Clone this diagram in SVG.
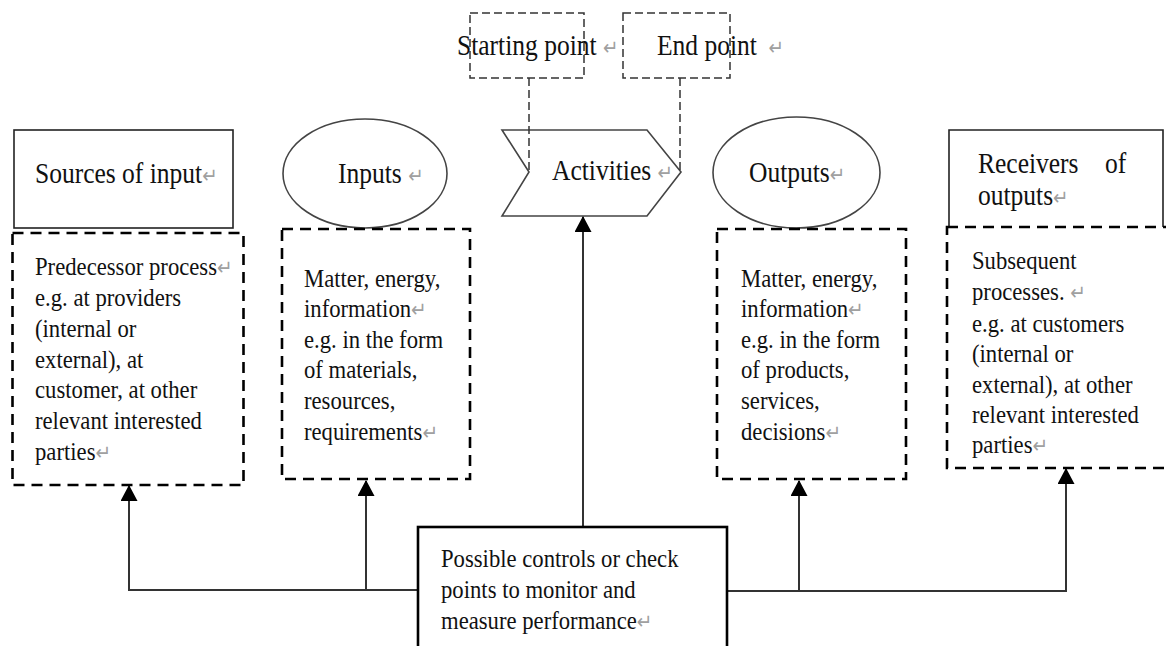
<svg xmlns="http://www.w3.org/2000/svg" width="1166" height="646" viewBox="0 0 1166 646">
  <style>
    .head { font-family: "Liberation Serif", "Times New Roman", serif; font-size: 29px; fill: #111; }
    .body { font-family: "Liberation Serif", "Times New Roman", serif; font-size: 25.5px; fill: #111; }
    .mark { font-family: "DejaVu Sans", sans-serif; font-size: 21px; fill: #a0a0a0; }
    .solid { fill: none; stroke: #222; stroke-width: 1.6; }
    .shape { fill: #fff; stroke: #444; stroke-width: 1.6; }
    .dash { fill: none; stroke: #000; stroke-width: 2.6; stroke-dasharray: 11 7; }
    .thin-dash { fill: none; stroke: #333; stroke-width: 1.5; stroke-dasharray: 8 4; }
    .link { fill: none; stroke: #333; stroke-width: 2; }
  </style>
  <defs>
    <marker id="tip" markerUnits="userSpaceOnUse" markerWidth="16" markerHeight="17" viewBox="0 0 16 17" refX="15" refY="8.5" orient="auto">
      <path d="M0,0 L16,8.5 L0,17 Z" fill="#000"/>
    </marker>
  </defs>
  <rect width="1166" height="646" fill="#fff"/>

  <!-- Starting point / End point markers -->
  <g id="starting-point">
    <rect class="thin-dash" x="470" y="13" width="114" height="65"/>
    <text class="head" transform="translate(457 0) scale(0.88 1)" x="0" y="55">Starting point <tspan class="mark">↵</tspan></text>
  </g>
  <g id="end-point">
    <rect class="thin-dash" x="623" y="13" width="107" height="65"/>
    <text class="head" transform="translate(657 0) scale(0.88 1)" x="0" y="55">End point <tspan class="mark" dx="6">↵</tspan></text>
  </g>

  <!-- Sources of input -->
  <g id="sources">
    <rect class="solid" x="14" y="130" width="219" height="98"/>
    <text class="head" transform="translate(35 0) scale(0.88 1)" x="0" y="183">Sources of input<tspan class="mark">↵</tspan></text>
    <rect class="dash" x="12.5" y="233" width="231" height="252"/>
    <text class="body" transform="translate(35 0) scale(0.89 1)">
      <tspan x="0" y="275">Predecessor process<tspan class="mark">↵</tspan></tspan>
      <tspan x="0" y="306">e.g. at providers</tspan>
      <tspan x="0" y="337">(internal or</tspan>
      <tspan x="0" y="368">external), at</tspan>
      <tspan x="0" y="398">customer, at other</tspan>
      <tspan x="0" y="429">relevant interested</tspan>
      <tspan x="0" y="460">parties<tspan class="mark">↵</tspan></tspan>
    </text>
  </g>

  <!-- Inputs -->
  <g id="inputs">
    <ellipse class="shape" cx="365" cy="173.5" rx="82" ry="54.5"/>
    <text class="head" transform="translate(338 0) scale(0.88 1)" x="0" y="183">Inputs <tspan class="mark">↵</tspan></text>
    <rect class="dash" x="282" y="229" width="188" height="250"/>
    <text class="body" transform="translate(304 0) scale(0.89 1)">
      <tspan x="0" y="287">Matter, energy,</tspan>
      <tspan x="0" y="317">information<tspan class="mark">↵</tspan></tspan>
      <tspan x="0" y="348">e.g. in the form</tspan>
      <tspan x="0" y="378">of materials,</tspan>
      <tspan x="0" y="409">resources,</tspan>
      <tspan x="0" y="440">requirements<tspan class="mark">↵</tspan></tspan>
    </text>
  </g>

  <!-- Activities -->
  <g id="activities">
    <path class="shape" d="M502,130 L647,130 L681,172 L647,216 L502,216 L529,172 Z"/>
    <text class="head" transform="translate(552 0) scale(0.88 1)" x="0" y="180">Activities <tspan class="mark">↵</tspan></text>
  </g>

  <!-- Outputs -->
  <g id="outputs">
    <ellipse class="shape" cx="796.5" cy="172.5" rx="83.5" ry="55.5"/>
    <text class="head" transform="translate(749 0) scale(0.88 1)" x="0" y="182">Outputs<tspan class="mark">↵</tspan></text>
    <rect class="dash" x="717" y="229" width="189" height="250"/>
    <text class="body" transform="translate(741 0) scale(0.89 1)">
      <tspan x="0" y="287">Matter, energy,</tspan>
      <tspan x="0" y="317">information<tspan class="mark">↵</tspan></tspan>
      <tspan x="0" y="348">e.g. in the form</tspan>
      <tspan x="0" y="378">of products,</tspan>
      <tspan x="0" y="409">services,</tspan>
      <tspan x="0" y="440">decisions<tspan class="mark">↵</tspan></tspan>
    </text>
  </g>

  <!-- Receivers of outputs -->
  <g id="receivers">
    <path class="solid" d="M949,227 V130 H1163 V227"/>
    <text class="head" transform="translate(978 0) scale(0.88 1)" x="0" y="173">Receivers</text>
    <text class="head" transform="translate(1105 0) scale(0.88 1)" x="0" y="173">of</text>
    <text class="head" transform="translate(978 0) scale(0.88 1)" x="0" y="205">outputs<tspan class="mark">↵</tspan></text>
    <rect class="dash" x="947" y="227" width="240" height="241"/>
    <text class="body" transform="translate(972 0) scale(0.89 1)">
      <tspan x="0" y="269">Subsequent</tspan>
      <tspan x="0" y="300">processes. <tspan class="mark">↵</tspan></tspan>
      <tspan x="0" y="332">e.g. at customers</tspan>
      <tspan x="0" y="362">(internal or</tspan>
      <tspan x="0" y="393">external), at other</tspan>
      <tspan x="0" y="423">relevant interested</tspan>
      <tspan x="0" y="453">parties<tspan class="mark">↵</tspan></tspan>
    </text>
  </g>

  <!-- Connectors -->
  <g id="connectors">
    <path class="thin-dash" d="M529,78 V172"/>
    <path class="thin-dash" d="M680,78 V172"/>
    <path class="link" d="M583,527 V217" marker-end="url(#tip)"/>
    <path class="link" d="M418,590 H129 V486" marker-end="url(#tip)"/>
    <path class="link" d="M366,590 V481" marker-end="url(#tip)"/>
    <path class="link" d="M727,591 H1066 V469" marker-end="url(#tip)"/>
    <path class="link" d="M799,591 V481" marker-end="url(#tip)"/>
  </g>

  <!-- Controls / check points -->
  <g id="controls">
    <rect x="418" y="527" width="309" height="130" fill="#fff" stroke="#000" stroke-width="2.6"/>
    <text class="body" transform="translate(441 0) scale(0.89 1)">
      <tspan x="0" y="567">Possible controls or check</tspan>
      <tspan x="0" y="598">points to monitor and</tspan>
      <tspan x="0" y="629">measure performance<tspan class="mark">↵</tspan></tspan>
    </text>
  </g>
</svg>
